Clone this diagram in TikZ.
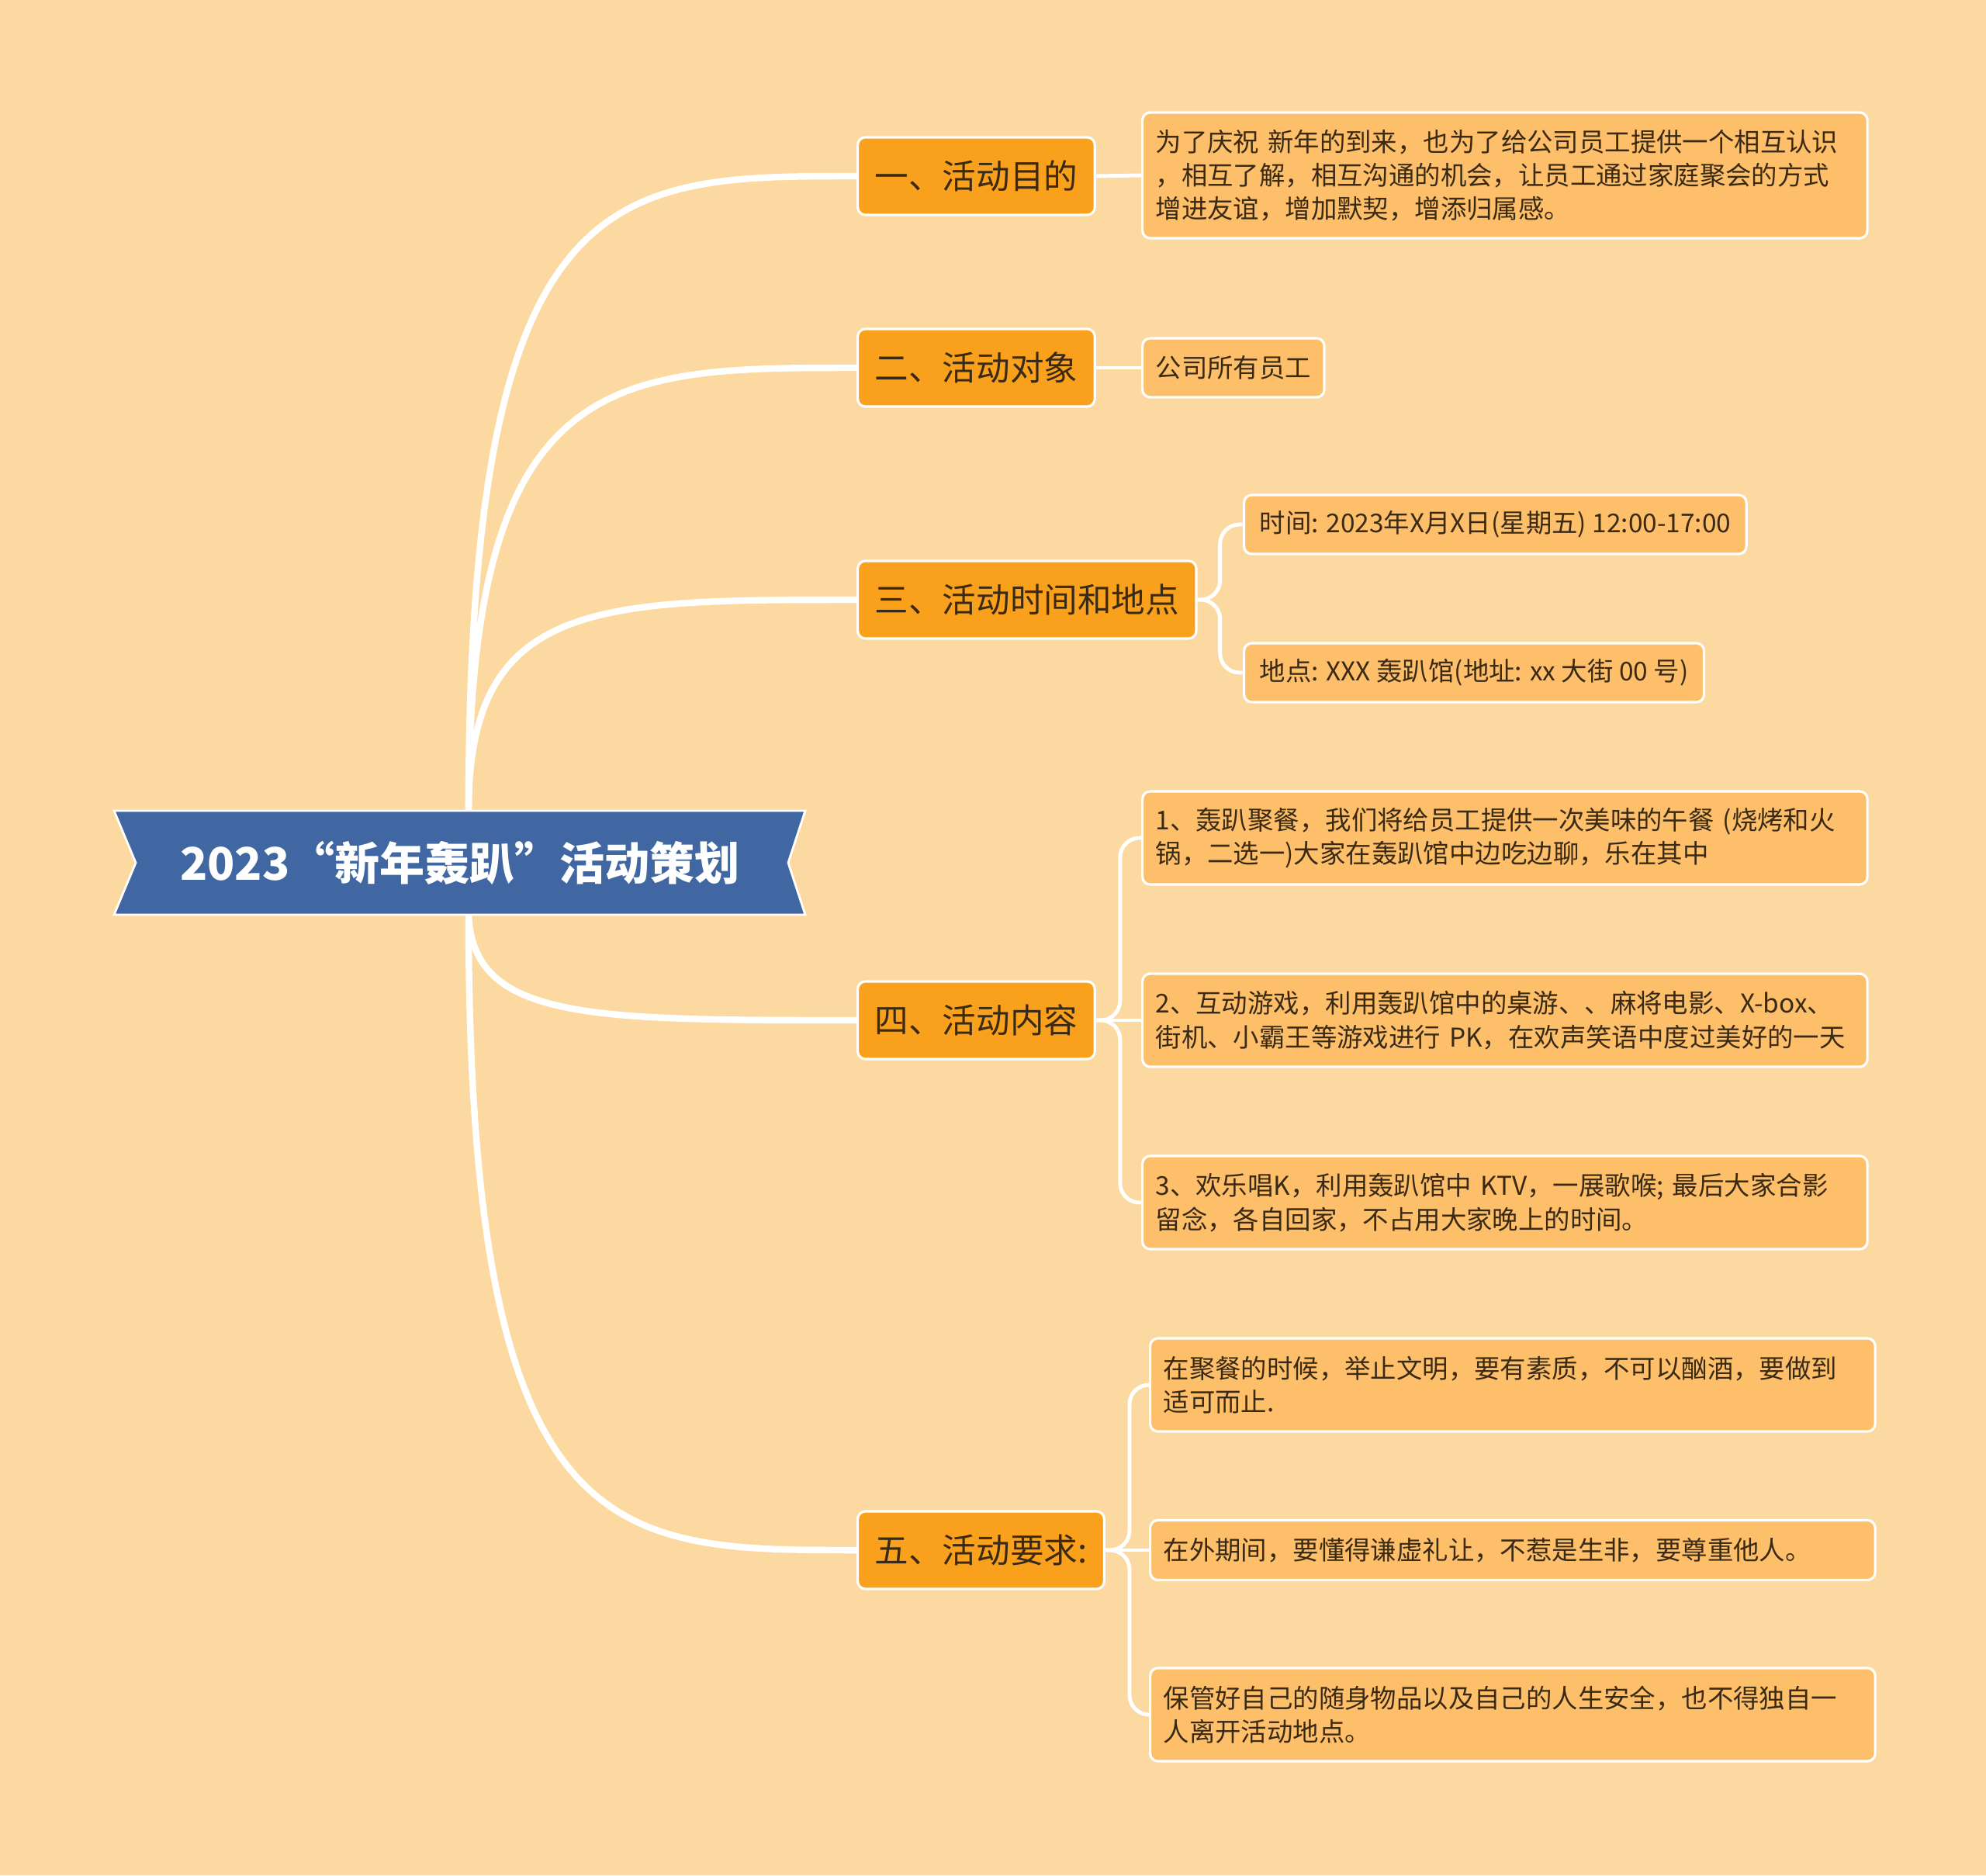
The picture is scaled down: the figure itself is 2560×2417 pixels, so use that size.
\documentclass[tikz,border=0pt]{standalone}
\usepackage{fontspec}
\setmainfont{Noto Sans CJK SC}
\definecolor{bgpeach}{HTML}{FCD9A0}
\definecolor{bannerblue}{HTML}{4067A1}
\definecolor{topicorange}{HTML}{F9A11C}
\definecolor{leaforange}{HTML}{FDBF69}
\definecolor{inkbrown}{HTML}{3A2A14}
\tikzset{
  topic/.style={draw=white, line width=0.9pt, fill=topicorange, rounded corners=0.1cm, anchor=west, minimum height=1cm, inner xsep=0.22cm, text=inkbrown, font=\fontsize{12.4}{15}\selectfont},
  leaf/.style={draw=white, line width=0.9pt, fill=leaforange, rounded corners=0.1cm, anchor=west, inner xsep=0.17cm, text=inkbrown, align=left, font=\fontsize{9.5}{12.3}\selectfont},
  wideleaf/.style={leaf, text width=9.0cm},
  branch/.style={white, line width=2.4pt},
  twig/.style={white, line width=1.4pt, rounded corners=0.25cm}
}
\begin{document}
\begin{tikzpicture}[x=0.01cm, y=-0.01cm]
  \fill[bgpeach] (0,0) rectangle (2560,2417);
  \useasboundingbox (0,0) rectangle (2560,2417);

  % banner
  \filldraw[fill=bannerblue, draw=white, line width=0.8pt] (147,1045) -- (1038,1045) -- (1016,1112) -- (1038,1179) -- (147,1179) -- (175,1112) -- cycle;
  \node[text=white, font=\fontsize{16.5}{20}\selectfont\bfseries] (root) at (593,1112) {2023“新年轰趴”活动策划};
  \coordinate (rt) at (604,1045);
  \coordinate (rb) at (604,1179);

  % main topics
  \node[topic] (t1) at (1104,227) {一、活动目的};
  \node[topic] (t2) at (1104,474) {二、活动对象};
  \node[topic] (t3) at (1104,773) {三、活动时间和地点};
  \node[topic] (t4) at (1104,1315) {四、活动内容};
  \node[topic] (t5) at (1104,1998) {五、活动要求:};

  % details
  \node[wideleaf, minimum height=1.62cm] (l1) at (1471,226) {为了庆祝 新年的到来，也为了给公司员工提供一个相互认识\\，相互了解，相互沟通的机会，让员工通过家庭聚会的方式\\增进友谊，增加默契，增添归属感。};
  \node[leaf, minimum height=0.76cm] (l2) at (1471,474) {公司所有员工};
  \node[leaf, inner xsep=0.2cm, minimum height=0.76cm] (l3a) at (1602,676) {时间: 2023年X月X日(星期五) 12:00-17:00};
  \node[leaf, inner xsep=0.2cm, minimum height=0.76cm] (l3b) at (1602,867) {地点: XXX 轰趴馆(地址: xx 大街 00 号)};
  \node[wideleaf, minimum height=1.2cm] (l4a) at (1471,1080) {1、轰趴聚餐，我们将给员工提供一次美味的午餐 (烧烤和火\\锅，二选一)大家在轰趴馆中边吃边聊，乐在其中};
  \node[wideleaf, minimum height=1.2cm] (l4b) at (1471,1315) {2、互动游戏，利用轰趴馆中的桌游、、麻将电影、X-box、\\街机、小霸王等游戏进行 PK，在欢声笑语中度过美好的一天};
  \node[wideleaf, minimum height=1.2cm] (l4c) at (1471,1550) {3、欢乐唱K，利用轰趴馆中 KTV，一展歌喉; 最后大家合影\\留念，各自回家，不占用大家晚上的时间。};
  \node[wideleaf, minimum height=1.2cm] (l5a) at (1481,1785) {在聚餐的时候，举止文明，要有素质，不可以酗酒，要做到\\适可而止.};
  \node[wideleaf, minimum height=0.77cm] (l5b) at (1481,1998) {在外期间，要懂得谦虚礼让，不惹是生非，要尊重他人。};
  \node[wideleaf, minimum height=1.2cm] (l5c) at (1481,2210) {保管好自己的随身物品以及自己的人生安全，也不得独自一\\人离开活动地点。};

  % branches from the banner
  \draw[branch] (rt) .. controls (604,227) and (790,227) .. (t1.west);
  \draw[branch] (rt) .. controls (604,474) and (790,474) .. (t2.west);
  \draw[branch] (rt) .. controls (604,773) and (770,773) .. (t3.west);
  \draw[branch] (rb) .. controls (610,1315) and (760,1315) .. (t4.west);
  \draw[branch] (rb) .. controls (604,1998) and (790,1998) .. (t5.west);

  % twigs to the details
  \draw[twig] (t1.east) -- (l1.west);
  \draw[twig] (t2.east) -- (l2.west);
  \draw[twig] (t3.east) -- ++(29,0) |- (l3a.west);
  \draw[twig] (t3.east) -- ++(29,0) |- (l3b.west);
  \draw[twig] (t4.east) -- (l4b.west);
  \draw[twig] (t4.east) -- ++(31,0) |- (l4a.west);
  \draw[twig] (t4.east) -- ++(31,0) |- (l4c.west);
  \draw[twig] (t5.east) -- (l5b.west);
  \draw[twig] (t5.east) -- ++(31,0) |- (l5a.west);
  \draw[twig] (t5.east) -- ++(31,0) |- (l5c.west);
\end{tikzpicture}
\end{document}
